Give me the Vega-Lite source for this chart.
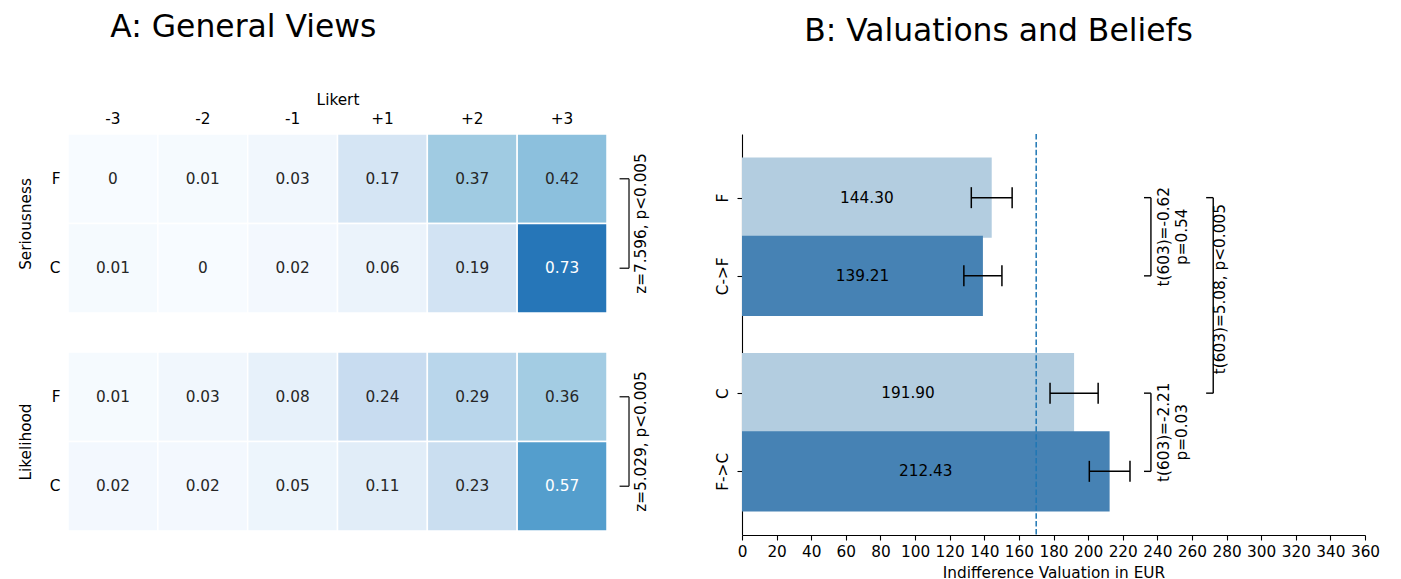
{
  "$schema": "https://vega.github.io/schema/vega-lite/v6.json",
  "background": "white",
  "padding": {"left": 18, "top": 11, "right": 5, "bottom": 0},
  "config": {
    "font": "DejaVu Sans",
    "view": {"stroke": null},
    "axis": {"labelFontSize": 15.3, "titleFontSize": 15.3, "titleFontWeight": "normal", "labelColor": "black", "titleColor": "black", "grid": false, "domainColor": "black", "tickColor": "black", "labelFont": "DejaVu Sans", "titleFont": "DejaVu Sans", "labelOverlap": false},
    "axisX": {"labelOverlap": false, "labelFlush": false, "labelBound": false},
    "title": {"fontSize": 31.4, "fontWeight": "normal", "color": "black", "font": "DejaVu Sans"}
  },
  "datasets": {
    "heat": [
      {"scale": "Seriousness", "group": "F", "likert": "-3", "share": 0},
      {"scale": "Seriousness", "group": "F", "likert": "-2", "share": 0.01},
      {"scale": "Seriousness", "group": "F", "likert": "-1", "share": 0.03},
      {"scale": "Seriousness", "group": "F", "likert": "+1", "share": 0.17},
      {"scale": "Seriousness", "group": "F", "likert": "+2", "share": 0.37},
      {"scale": "Seriousness", "group": "F", "likert": "+3", "share": 0.42},
      {"scale": "Seriousness", "group": "C", "likert": "-3", "share": 0.01},
      {"scale": "Seriousness", "group": "C", "likert": "-2", "share": 0},
      {"scale": "Seriousness", "group": "C", "likert": "-1", "share": 0.02},
      {"scale": "Seriousness", "group": "C", "likert": "+1", "share": 0.06},
      {"scale": "Seriousness", "group": "C", "likert": "+2", "share": 0.19},
      {"scale": "Seriousness", "group": "C", "likert": "+3", "share": 0.73},
      {"scale": "Likelihood", "group": "F", "likert": "-3", "share": 0.01},
      {"scale": "Likelihood", "group": "F", "likert": "-2", "share": 0.03},
      {"scale": "Likelihood", "group": "F", "likert": "-1", "share": 0.08},
      {"scale": "Likelihood", "group": "F", "likert": "+1", "share": 0.24},
      {"scale": "Likelihood", "group": "F", "likert": "+2", "share": 0.29},
      {"scale": "Likelihood", "group": "F", "likert": "+3", "share": 0.36},
      {"scale": "Likelihood", "group": "C", "likert": "-3", "share": 0.02},
      {"scale": "Likelihood", "group": "C", "likert": "-2", "share": 0.02},
      {"scale": "Likelihood", "group": "C", "likert": "-1", "share": 0.05},
      {"scale": "Likelihood", "group": "C", "likert": "+1", "share": 0.11},
      {"scale": "Likelihood", "group": "C", "likert": "+2", "share": 0.23},
      {"scale": "Likelihood", "group": "C", "likert": "+3", "share": 0.57}
    ],
    "bars": [
      {"cond": "F", "slot": 0, "mean": 144.30, "lo": 132.5, "hi": 156.1},
      {"cond": "C->F", "slot": 1, "mean": 139.21, "lo": 128.2, "hi": 150.2},
      {"cond": "C", "slot": 2.5, "mean": 191.90, "lo": 178.0, "hi": 205.8},
      {"cond": "F->C", "slot": 3.5, "mean": 212.43, "lo": 200.7, "hi": 224.2}
    ]
  },
  "spacing": 65,
  "hconcat": [
    {
      "title": {"text": "A: General Views", "anchor": "start", "dx": 92, "offset": 49},
      "spacing": 37,
      "vconcat": [
        {
          "width": 539, "height": 179,
          "data": {"name": "heat"},
          "transform": [{"filter": "datum.scale === 'Seriousness'"}],
          "resolve": {"scale": {"x": "independent"}},
          "layer": [
            {
              "mark": {"type": "rect", "stroke": "white", "strokeWidth": 1.5},
              "encoding": {
                "x": {"field": "likert", "type": "ordinal", "sort": ["-3", "-2", "-1", "+1", "+2", "+3"], "scale": {"paddingInner": 0, "paddingOuter": 0}, "axis": {"orient": "top", "title": "Likert", "labelAngle": 0, "ticks": false, "domain": false, "labelPadding": 8, "titlePadding": 4}},
                "y": {"field": "group", "type": "nominal", "sort": ["F", "C"], "scale": {"paddingInner": 0, "paddingOuter": 0}, "axis": {"title": "Seriousness", "labelAngle": 0, "ticks": false, "domain": false, "labelPadding": 8, "titlePadding": 16}},
                "color": {"field": "share", "type": "quantitative", "scale": {"type": "linear", "domain": [0, 0.125, 0.25, 0.375, 0.5, 0.625, 0.75, 0.875, 1], "range": ["#f7fbff", "#deebf7", "#c6dbef", "#9ecae1", "#6baed6", "#4292c6", "#2171b5", "#08519c", "#08306b"], "interpolate": "rgb"}, "legend": null}
              }
            },
            {
              "mark": {"type": "text", "fontSize": 15.3},
              "encoding": {
                "x": {"field": "likert", "type": "ordinal", "sort": ["-3", "-2", "-1", "+1", "+2", "+3"], "scale": {"paddingInner": 0, "paddingOuter": 0}, "axis": null},
                "y": {"field": "group", "type": "nominal", "sort": ["F", "C"]},
                "text": {"field": "share", "type": "quantitative", "format": ".2~f"},
                "color": {"condition": {"test": "datum.share > 0.5", "value": "white"}, "value": "#262626"}
              }
            },
            {
              "data": {"values": [{}]},
              "mark": {"type": "rule", "color": "#262626", "strokeWidth": 1.4},
              "encoding": {
                "x": {"datum": 6.245, "type": "quantitative", "scale": {"domain": [0, 6], "nice": false}, "axis": null},
                "y": {"datum": "F", "type": "nominal"},
                "y2": {"datum": "C"}
              }
            },
            {
              "data": {"values": [{}]},
              "mark": {"type": "rule", "color": "#262626", "strokeWidth": 1.4},
              "encoding": {
                "x": {"datum": 6.14, "type": "quantitative", "scale": {"domain": [0, 6], "nice": false}, "axis": null},
                "x2": {"datum": 6.245},
                "y": {"datum": "F", "type": "nominal"}
              }
            },
            {
              "data": {"values": [{}]},
              "mark": {"type": "rule", "color": "#262626", "strokeWidth": 1.4},
              "encoding": {
                "x": {"datum": 6.14, "type": "quantitative", "scale": {"domain": [0, 6], "nice": false}, "axis": null},
                "x2": {"datum": 6.245},
                "y": {"datum": "C", "type": "nominal"}
              }
            },
            {
              "data": {"values": [{}]},
              "mark": {"type": "text", "angle": 270, "align": "center", "baseline": "middle", "fontSize": 15.3, "color": "black"},
              "encoding": {
                "x": {"datum": 6.38, "type": "quantitative", "scale": {"domain": [0, 6], "nice": false}, "axis": null},
                "y": {"datum": "F", "type": "nominal", "bandPosition": 1},
                "text": {"value": "z=7.596, p<0.005"}
              }
            }
          ]
        },
        {
          "width": 539, "height": 179,
          "data": {"name": "heat"},
          "transform": [{"filter": "datum.scale === 'Likelihood'"}],
          "resolve": {"scale": {"x": "independent"}},
          "layer": [
            {
              "mark": {"type": "rect", "stroke": "white", "strokeWidth": 1.5},
              "encoding": {
                "x": {"field": "likert", "type": "ordinal", "sort": ["-3", "-2", "-1", "+1", "+2", "+3"], "scale": {"paddingInner": 0, "paddingOuter": 0}, "axis": null},
                "y": {"field": "group", "type": "nominal", "sort": ["F", "C"], "scale": {"paddingInner": 0, "paddingOuter": 0}, "axis": {"title": "Likelihood", "labelAngle": 0, "ticks": false, "domain": false, "labelPadding": 8, "titlePadding": 16}},
                "color": {"field": "share", "type": "quantitative", "scale": {"type": "linear", "domain": [0, 0.125, 0.25, 0.375, 0.5, 0.625, 0.75, 0.875, 1], "range": ["#f7fbff", "#deebf7", "#c6dbef", "#9ecae1", "#6baed6", "#4292c6", "#2171b5", "#08519c", "#08306b"], "interpolate": "rgb"}, "legend": null}
              }
            },
            {
              "mark": {"type": "text", "fontSize": 15.3},
              "encoding": {
                "x": {"field": "likert", "type": "ordinal", "sort": ["-3", "-2", "-1", "+1", "+2", "+3"], "scale": {"paddingInner": 0, "paddingOuter": 0}, "axis": null},
                "y": {"field": "group", "type": "nominal", "sort": ["F", "C"]},
                "text": {"field": "share", "type": "quantitative", "format": ".2~f"},
                "color": {"condition": {"test": "datum.share > 0.5", "value": "white"}, "value": "#262626"}
              }
            },
            {
              "data": {"values": [{}]},
              "mark": {"type": "rule", "color": "#262626", "strokeWidth": 1.4},
              "encoding": {
                "x": {"datum": 6.245, "type": "quantitative", "scale": {"domain": [0, 6], "nice": false}, "axis": null},
                "y": {"datum": "F", "type": "nominal"},
                "y2": {"datum": "C"}
              }
            },
            {
              "data": {"values": [{}]},
              "mark": {"type": "rule", "color": "#262626", "strokeWidth": 1.4},
              "encoding": {
                "x": {"datum": 6.14, "type": "quantitative", "scale": {"domain": [0, 6], "nice": false}, "axis": null},
                "x2": {"datum": 6.245},
                "y": {"datum": "F", "type": "nominal"}
              }
            },
            {
              "data": {"values": [{}]},
              "mark": {"type": "rule", "color": "#262626", "strokeWidth": 1.4},
              "encoding": {
                "x": {"datum": 6.14, "type": "quantitative", "scale": {"domain": [0, 6], "nice": false}, "axis": null},
                "x2": {"datum": 6.245},
                "y": {"datum": "C", "type": "nominal"}
              }
            },
            {
              "data": {"values": [{}]},
              "mark": {"type": "text", "angle": 270, "align": "center", "baseline": "middle", "fontSize": 15.3, "color": "black"},
              "encoding": {
                "x": {"datum": 6.38, "type": "quantitative", "scale": {"domain": [0, 6], "nice": false}, "axis": null},
                "y": {"datum": "F", "type": "nominal", "bandPosition": 1},
                "text": {"value": "z=5.029, p<0.005"}
              }
            }
          ]
        }
      ]
    },
    {
      "title": {"text": "B: Valuations and Beliefs", "anchor": "middle", "frame": "group", "dx": -55, "offset": 86},
      "width": 623, "height": 401,
      "data": {"name": "bars"},
      "resolve": {"scale": {"x": "independent"}, "axis": {"x": "independent"}},
      "layer": [
        {
          "mark": {"type": "bar", "orient": "horizontal", "height": 80.2},
          "encoding": {
            "y": {"field": "slot", "type": "quantitative", "scale": {"domain": [-0.75, 4.25], "reverse": true, "nice": false, "zero": false}, "axis": {"values": [0, 1, 2.5, 3.5], "labelExpr": "datum.value === 0 ? 'F' : datum.value === 1 ? 'C->F' : datum.value === 2.5 ? 'C' : 'F->C'", "title": null, "labelAngle": 270, "labelAlign": "center", "labelBaseline": "alphabetic", "labelPadding": 10, "tickSize": 5, "domainWidth": 1.1, "tickWidth": 1.1, "labelOverlap": false}},
            "x": {"field": "mean", "type": "quantitative", "scale": {"domain": [0, 360], "nice": false}, "axis": {"values": [0, 20, 40, 60, 80, 100, 120, 140, 160, 180, 200, 220, 240, 260, 280, 300, 320, 340, 360], "title": "Indifference Valuation in EUR", "tickSize": 5, "labelPadding": 4, "titlePadding": 6, "domainWidth": 1.1, "tickWidth": 1.1, "labelOverlap": false, "labelFlush": false}},
            "color": {"field": "cond", "type": "nominal", "scale": {"domain": ["F", "C->F", "C", "F->C"], "range": ["#b3cde0", "#4682b4", "#b3cde0", "#4682b4"]}, "legend": null}
          }
        },
        {
          "data": {"values": [{}]},
          "mark": {"type": "rule", "color": "#1f77b4", "strokeDash": [5.5, 2.4], "strokeWidth": 1.5},
          "encoding": {"x": {"datum": 170, "type": "quantitative", "scale": {"domain": [0, 360], "nice": false}, "axis": null}}
        },
        {
          "mark": {"type": "rule", "color": "black", "strokeWidth": 1.5},
          "encoding": {
            "x": {"field": "lo", "type": "quantitative", "scale": {"domain": [0, 360], "nice": false}, "axis": null},
            "x2": {"field": "hi"},
            "y": {"field": "slot", "type": "quantitative"}
          }
        },
        {
          "mark": {"type": "tick", "orient": "vertical", "size": 21, "thickness": 1.5, "color": "black", "opacity": 1},
          "encoding": {
            "x": {"field": "lo", "type": "quantitative", "scale": {"domain": [0, 360], "nice": false}, "axis": null},
            "y": {"field": "slot", "type": "quantitative"}
          }
        },
        {
          "mark": {"type": "tick", "orient": "vertical", "size": 21, "thickness": 1.5, "color": "black", "opacity": 1},
          "encoding": {
            "x": {"field": "hi", "type": "quantitative", "scale": {"domain": [0, 360], "nice": false}, "axis": null},
            "y": {"field": "slot", "type": "quantitative"}
          }
        },
        {
          "data": {"values": [{}]},
          "mark": {"type": "rule", "color": "black", "strokeWidth": 1.4},
          "encoding": {"x": {"datum": 236.3, "type": "quantitative", "scale": {"domain": [0, 360], "nice": false}, "axis": null}, "y": {"datum": 0, "type": "quantitative"}, "y2": {"datum": 1}}
        },
        {
          "data": {"values": [{}]},
          "mark": {"type": "rule", "color": "black", "strokeWidth": 1.4},
          "encoding": {"x": {"datum": 232.3, "type": "quantitative", "scale": {"domain": [0, 360], "nice": false}, "axis": null}, "x2": {"datum": 236.3}, "y": {"datum": 0, "type": "quantitative"}}
        },
        {
          "data": {"values": [{}]},
          "mark": {"type": "rule", "color": "black", "strokeWidth": 1.4},
          "encoding": {"x": {"datum": 232.3, "type": "quantitative", "scale": {"domain": [0, 360], "nice": false}, "axis": null}, "x2": {"datum": 236.3}, "y": {"datum": 1, "type": "quantitative"}}
        },
        {
          "data": {"values": [{}]},
          "mark": {"type": "rule", "color": "black", "strokeWidth": 1.4},
          "encoding": {"x": {"datum": 236.3, "type": "quantitative", "scale": {"domain": [0, 360], "nice": false}, "axis": null}, "y": {"datum": 2.5, "type": "quantitative"}, "y2": {"datum": 3.5}}
        },
        {
          "data": {"values": [{}]},
          "mark": {"type": "rule", "color": "black", "strokeWidth": 1.4},
          "encoding": {"x": {"datum": 232.3, "type": "quantitative", "scale": {"domain": [0, 360], "nice": false}, "axis": null}, "x2": {"datum": 236.3}, "y": {"datum": 2.5, "type": "quantitative"}}
        },
        {
          "data": {"values": [{}]},
          "mark": {"type": "rule", "color": "black", "strokeWidth": 1.4},
          "encoding": {"x": {"datum": 232.3, "type": "quantitative", "scale": {"domain": [0, 360], "nice": false}, "axis": null}, "x2": {"datum": 236.3}, "y": {"datum": 3.5, "type": "quantitative"}}
        },
        {
          "data": {"values": [{}]},
          "mark": {"type": "rule", "color": "black", "strokeWidth": 1.4},
          "encoding": {"x": {"datum": 272.3, "type": "quantitative", "scale": {"domain": [0, 360], "nice": false}, "axis": null}, "y": {"datum": 0, "type": "quantitative"}, "y2": {"datum": 2.5}}
        },
        {
          "data": {"values": [{}]},
          "mark": {"type": "rule", "color": "black", "strokeWidth": 1.4},
          "encoding": {"x": {"datum": 268.2, "type": "quantitative", "scale": {"domain": [0, 360], "nice": false}, "axis": null}, "x2": {"datum": 272.3}, "y": {"datum": 0, "type": "quantitative"}}
        },
        {
          "data": {"values": [{}]},
          "mark": {"type": "rule", "color": "black", "strokeWidth": 1.4},
          "encoding": {"x": {"datum": 268.2, "type": "quantitative", "scale": {"domain": [0, 360], "nice": false}, "axis": null}, "x2": {"datum": 272.3}, "y": {"datum": 2.5, "type": "quantitative"}}
        },
        {
          "data": {"values": [{}]},
          "mark": {"type": "text", "angle": 270, "align": "center", "baseline": "middle", "fontSize": 15.3, "lineHeight": 18.4, "color": "black"},
          "encoding": {"x": {"datum": 243.8, "type": "quantitative", "scale": {"domain": [0, 360], "nice": false}, "axis": null}, "y": {"datum": 0.5, "type": "quantitative"}, "text": {"value": ["t(603)=-0.62", "p=0.54"]}}
        },
        {
          "data": {"values": [{}]},
          "mark": {"type": "text", "angle": 270, "align": "center", "baseline": "middle", "fontSize": 15.3, "lineHeight": 18.4, "color": "black"},
          "encoding": {"x": {"datum": 243.8, "type": "quantitative", "scale": {"domain": [0, 360], "nice": false}, "axis": null}, "y": {"datum": 3.0, "type": "quantitative"}, "text": {"value": ["t(603)=-2.21", "p=0.03"]}}
        },
        {
          "data": {"values": [{}]},
          "mark": {"type": "text", "angle": 270, "align": "center", "baseline": "middle", "fontSize": 15.3, "color": "black"},
          "encoding": {"x": {"datum": 276.1, "type": "quantitative", "scale": {"domain": [0, 360], "nice": false}, "axis": null}, "y": {"datum": 1.17, "type": "quantitative"}, "text": {"value": "t(603)=5.08, p<0.005"}}
        },
        {
          "mark": {"type": "text", "fontSize": 15.3, "color": "black"},
          "encoding": {
            "x": {"field": "mean", "type": "quantitative", "scale": {"domain": [0, 720], "nice": false}, "axis": null},
            "y": {"field": "slot", "type": "quantitative"},
            "text": {"field": "mean", "type": "quantitative", "format": ".2f"}
          }
        }
      ]
    }
  ]
}
